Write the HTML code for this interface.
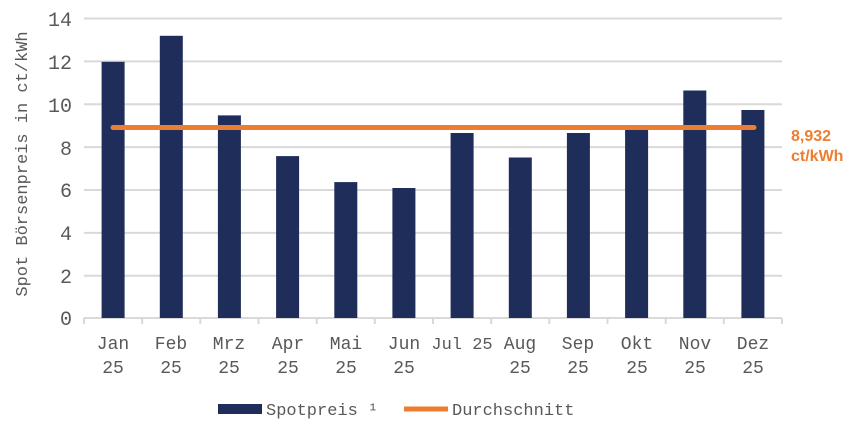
<!DOCTYPE html>
<html><head><meta charset="utf-8"><style>body{margin:0;background:#fff}svg{display:block}</style></head>
<body>
<svg width="867" height="421" viewBox="0 0 867 421" xmlns="http://www.w3.org/2000/svg" font-family="Liberation Mono, monospace" fill="#595959">
<g stroke="#d9d9d9" stroke-width="2">
<line x1="84" x2="782" y1="18.5" y2="18.5"/>
<line x1="84" x2="782" y1="61.4" y2="61.4"/>
<line x1="84" x2="782" y1="104.3" y2="104.3"/>
<line x1="84" x2="782" y1="147.1" y2="147.1"/>
<line x1="84" x2="782" y1="190" y2="190"/>
<line x1="84" x2="782" y1="232.9" y2="232.9"/>
<line x1="84" x2="782" y1="275.7" y2="275.7"/>
<line x1="84" x2="782" y1="318" y2="318"/>
<g><line x1="84" x2="84" y1="318" y2="324"/><line x1="142.2" x2="142.2" y1="318" y2="324"/><line x1="200.3" x2="200.3" y1="318" y2="324"/><line x1="258.5" x2="258.5" y1="318" y2="324"/><line x1="316.7" x2="316.7" y1="318" y2="324"/><line x1="374.8" x2="374.8" y1="318" y2="324"/><line x1="433" x2="433" y1="318" y2="324"/><line x1="491.2" x2="491.2" y1="318" y2="324"/><line x1="549.3" x2="549.3" y1="318" y2="324"/><line x1="607.5" x2="607.5" y1="318" y2="324"/><line x1="665.7" x2="665.7" y1="318" y2="324"/><line x1="723.8" x2="723.8" y1="318" y2="324"/><line x1="782" x2="782" y1="318" y2="324"/></g>
</g>
<g fill="#1f2d5a">
<rect x="101.6" y="61.8" width="23" height="256.2"/>
<rect x="159.8" y="35.8" width="23" height="282.2"/>
<rect x="217.9" y="115.4" width="23" height="202.6"/>
<rect x="276.1" y="156.1" width="23" height="161.9"/>
<rect x="334.3" y="182.1" width="23" height="135.9"/>
<rect x="392.4" y="188" width="23" height="130"/>
<rect x="450.6" y="133" width="23" height="185"/>
<rect x="508.8" y="157.5" width="23" height="160.5"/>
<rect x="566.9" y="133" width="23" height="185"/>
<rect x="625.1" y="127" width="23" height="191"/>
<rect x="683.3" y="90.5" width="23" height="227.5"/>
<rect x="741.4" y="110" width="23" height="208"/>
</g>
<line x1="113" x2="754" y1="127.5" y2="127.5" stroke="#ED7D31" stroke-width="5" stroke-linecap="round"/>
<g font-size="20" text-anchor="end">
<text x="72" y="26">14</text><text x="72" y="69">12</text><text x="72" y="112">10</text><text x="72" y="155">8</text><text x="72" y="197">6</text><text x="72" y="240">4</text><text x="72" y="283">2</text><text x="72" y="325">0</text>
</g>
<text transform="translate(27,164) rotate(-90)" font-size="17" text-anchor="middle">Spot Börsenpreis in ct/kWh</text>
<g font-size="18" text-anchor="middle">
<text x="113" y="349">Jan</text><text x="113" y="373">25</text>
<text x="171" y="349">Feb</text><text x="171" y="373">25</text>
<text x="229" y="349">Mrz</text><text x="229" y="373">25</text>
<text x="288" y="349">Apr</text><text x="288" y="373">25</text>
<text x="346" y="349">Mai</text><text x="346" y="373">25</text>
<text x="404" y="349">Jun</text><text x="404" y="373">25</text>
<text x="462" y="349" font-size="17">Jul 25</text>
<text x="520" y="349">Aug</text><text x="520" y="373">25</text>
<text x="578" y="349">Sep</text><text x="578" y="373">25</text>
<text x="637" y="349">Okt</text><text x="637" y="373">25</text>
<text x="695" y="349">Nov</text><text x="695" y="373">25</text>
<text x="753" y="349">Dez</text><text x="753" y="373">25</text>
</g>
<g font-family="Liberation Sans, sans-serif" font-weight="bold" font-size="16" fill="#ED7D31">
<text x="791" y="141">8,932</text><text x="791" y="161">ct/kWh</text>
</g>
<rect x="218" y="404" width="44" height="10" fill="#1f2d5a"/>
<text x="266" y="415" font-size="17">Spotpreis ¹</text>
<line x1="404" x2="448" y1="409" y2="409" stroke="#ED7D31" stroke-width="5"/>
<text x="452" y="415" font-size="17">Durchschnitt</text>
</svg>
</body></html>
